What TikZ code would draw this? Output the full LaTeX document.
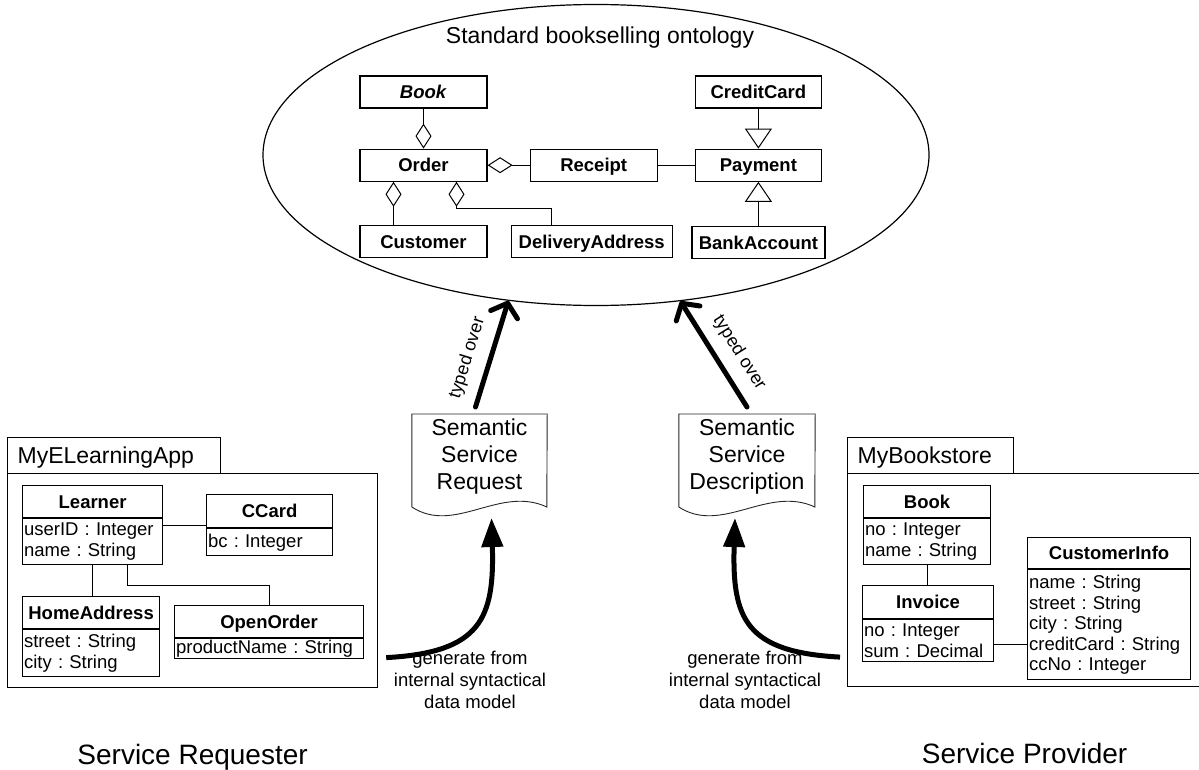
\documentclass[tikz,border=0pt]{standalone}
\usepackage{fontspec}
\setmainfont{Liberation Sans}
\usepackage{tikz}
\usetikzlibrary{positioning, arrows.meta, shapes.geometric}
\frenchspacing

\begin{document}
\begin{tikzpicture}[
    x=1pt, y=-1pt,
    node distance=40pt,
    cls/.style={rectangle, draw, line width=1.2pt, font=\bfseries\fontsize{18.5}{21}\selectfont, minimum height=32pt, inner sep=0pt, text height=13.5pt, text depth=0pt},
    attr/.style={rectangle, draw, line width=1.2pt, font=\fontsize{18.5}{20.5}\selectfont, align=left, text width=#1, inner xsep=1.5pt, inner ysep=0pt},
    pkg/.style={rectangle, draw, line width=1.2pt, font=\fontsize{23}{26}\selectfont, anchor=north west, inner sep=0pt},
    docnode/.style={anchor=north, text width=#1, align=center, inner xsep=0pt, inner ysep=5pt, font=\fontsize{23}{27}\selectfont},
    doc/.style={draw=black!85, line width=0.9pt},
    genlabel/.style={align=center, font=\fontsize{18.5}{22}\selectfont},
    link/.style={line width=1pt},
    agg/.style={link, arrows={Diamond[open, length=25pt, width=16pt]-}},
    gen/.style={link, arrows={-Triangle[open, length=20pt, width=27pt]}},
    typed/.style={line width=5pt, line cap=round, arrows={-Straight Barb[round, length=12pt, width=28pt]}},
    genarrow/.style={line width=5pt, arrows={-Triangle[length=29pt, width=21pt]}}
]
\useasboundingbox (0,0) rectangle (1199,770);

% Ontology
\node (onto) [draw, ellipse, line width=1.2pt, minimum width=666pt, minimum height=301pt, inner sep=0pt] at (596,155) {};
\node (ontotitle) [font=\fontsize{23}{26}\selectfont] at (600,38) {Standard bookselling ontology};

\node (book) [cls, minimum width=127pt] at (423.5,92) {\textit{Book}};
\node (order) [cls, minimum width=127pt, below=of book] {Order};
\node (customer) [cls, minimum width=127pt, below=43pt of order] {Customer};
\node (delivery) [cls, minimum width=161pt, right=23pt of customer] {DeliveryAddress};
\node (receipt) [cls, minimum width=127pt, right=42pt of order] {Receipt};
\node (payment) [cls, minimum width=126pt, right=37pt of receipt] {Payment};
\node (creditcard) [cls, minimum width=126pt, above=of payment] {CreditCard};
\node (bankaccount) [cls, minimum width=133pt, below=44pt of payment] {BankAccount};

\draw [agg] (order) -- (book);
\draw [agg] (order) -- (receipt);
\draw [agg] ([xshift=-30pt]order.south) -- ([xshift=-30pt]customer.north);
\draw [agg] ([xshift=33pt]order.south) -- ++(0,27) -| ([xshift=-40pt]delivery.north);
\draw [link] (receipt) -- (payment);
\draw [gen] (creditcard) -- (payment);
\draw [gen] (bankaccount) -- (payment);

% Semantic documents
\node (req) [docnode=135pt] at (479.5,414) {Semantic\\Service\\Request};
\draw [doc] (req.north west) -- ++(0,93) .. controls +(43,28) and +(-47,-22) .. ++(135,0) -- (req.north east) -- cycle;

\node (desc) [docnode=136pt] at (747,414) {Semantic\\Service\\Description};
\draw [doc] (desc.north west) -- ++(0,93) .. controls +(43,28) and +(-47,-22) .. ++(136,0) -- (desc.north east) -- cycle;

% typed over
\draw [typed] ([xshift=-4pt,yshift=7pt]req.north) -- (onto.239)
    node [pos=0.4, sloped, above=8pt, font=\fontsize{18}{20}\selectfont] {typed over};
\draw [typed] ([yshift=7pt]desc.north) -- (onto.300)
    node [pos=0.4, sloped, above=8pt, font=\fontsize{18}{20}\selectfont] {typed over};

% MyELearningApp
\node (elapp) [pkg, minimum width=213pt, minimum height=36pt, text width=193pt, inner xsep=10pt, align=left, text depth=0pt] at (7,437) {MyELearningApp};
\node (elappbody) [pkg, minimum width=370pt, minimum height=214pt] at (7,473) {};

\node (learner) [cls, anchor=north west, minimum width=140pt] at (22,485) {Learner};
\node (learnera) [attr=137pt, minimum height=46pt, below=0pt of learner] {userID : Integer\\name : String};
\node (ccard) [cls, anchor=north west, minimum width=126pt, minimum height=33pt] at (206,494) {CCard};
\node (ccarda) [attr=123pt, minimum height=27pt, below=0pt of ccard] {bc : Integer};
\node (home) [cls, anchor=north west, minimum width=137pt] at (22,596) {HomeAddress};
\node (homea) [attr=134pt, minimum height=47pt, below=0pt of home] {street : String\\city : String};
\node (openorder) [cls, anchor=north west, minimum width=189pt] at (174,605) {OpenOrder};
\node (openordera) [attr=186pt, minimum height=20pt, below=0pt of openorder] {productName : String};

\draw [link] (ccard.south west) ++(0,-3) coordinate (cc) -- (cc -| learnera.east);
\draw [link] (learnera.south) -- (learnera.south |- home.north);
\draw [link] ([xshift=35pt]learnera.south) -- ++(0,20) -| (openorder.north);

% MyBookstore
\node (store) [pkg, minimum width=166pt, minimum height=36pt, text width=146pt, inner xsep=10pt, align=left, text depth=0pt] at (847,437) {MyBookstore};
\node (storebody) [pkg, minimum width=354pt, minimum height=213pt] at (847,473) {};

\node (sbook) [cls, anchor=north west, minimum width=127pt] at (863,485) {Book};
\node (sbooka) [attr=124pt, minimum height=46pt, below=0pt of sbook] {no : Integer\\name : String};
\node (invoice) [cls, anchor=north west, minimum width=131pt, minimum height=33pt] at (862,585) {Invoice};
\node (invoicea) [attr=128pt, minimum height=42pt, below=0pt of invoice] {no : Integer\\sum : Decimal};
\node (custinfo) [cls, anchor=north west, minimum width=163pt, minimum height=31pt] at (1027,537) {CustomerInfo};
\node (custinfoa) [attr=160pt, minimum height=110pt, below=0pt of custinfo] {name : String\\street : String\\city : String\\creditCard : String\\ccNo : Integer};

\draw [link] (sbooka.south) -- (sbooka.south |- invoice.north);
\draw [link] (invoicea.east) ++(0,4) coordinate (ic) -- (ic -| custinfoa.west);

% generate from
\draw [genarrow] ([xshift=8pt,yshift=-77pt]elappbody.east) .. controls +(95,-5) and +(3,100) .. ([xshift=12pt,yshift=-104pt]req.north);
\draw [genarrow] ([xshift=-7pt,yshift=-77pt]storebody.west) .. controls +(-95,-5) and +(-3,100) .. ([xshift=-12pt,yshift=-104pt]desc.north);

\node (genreq) [genlabel] at (470,680) {generate from\\internal syntactical\\data model};
\node (gendesc) [genlabel] at (745,680) {generate from\\internal syntactical\\data model};

\node (requester) [font=\fontsize{28}{30}\selectfont, below=52pt of elappbody] {Service Requester};
\node (provider) [font=\fontsize{28}{30}\selectfont, below=52pt of storebody] {Service Provider};

\end{tikzpicture}
\end{document}
